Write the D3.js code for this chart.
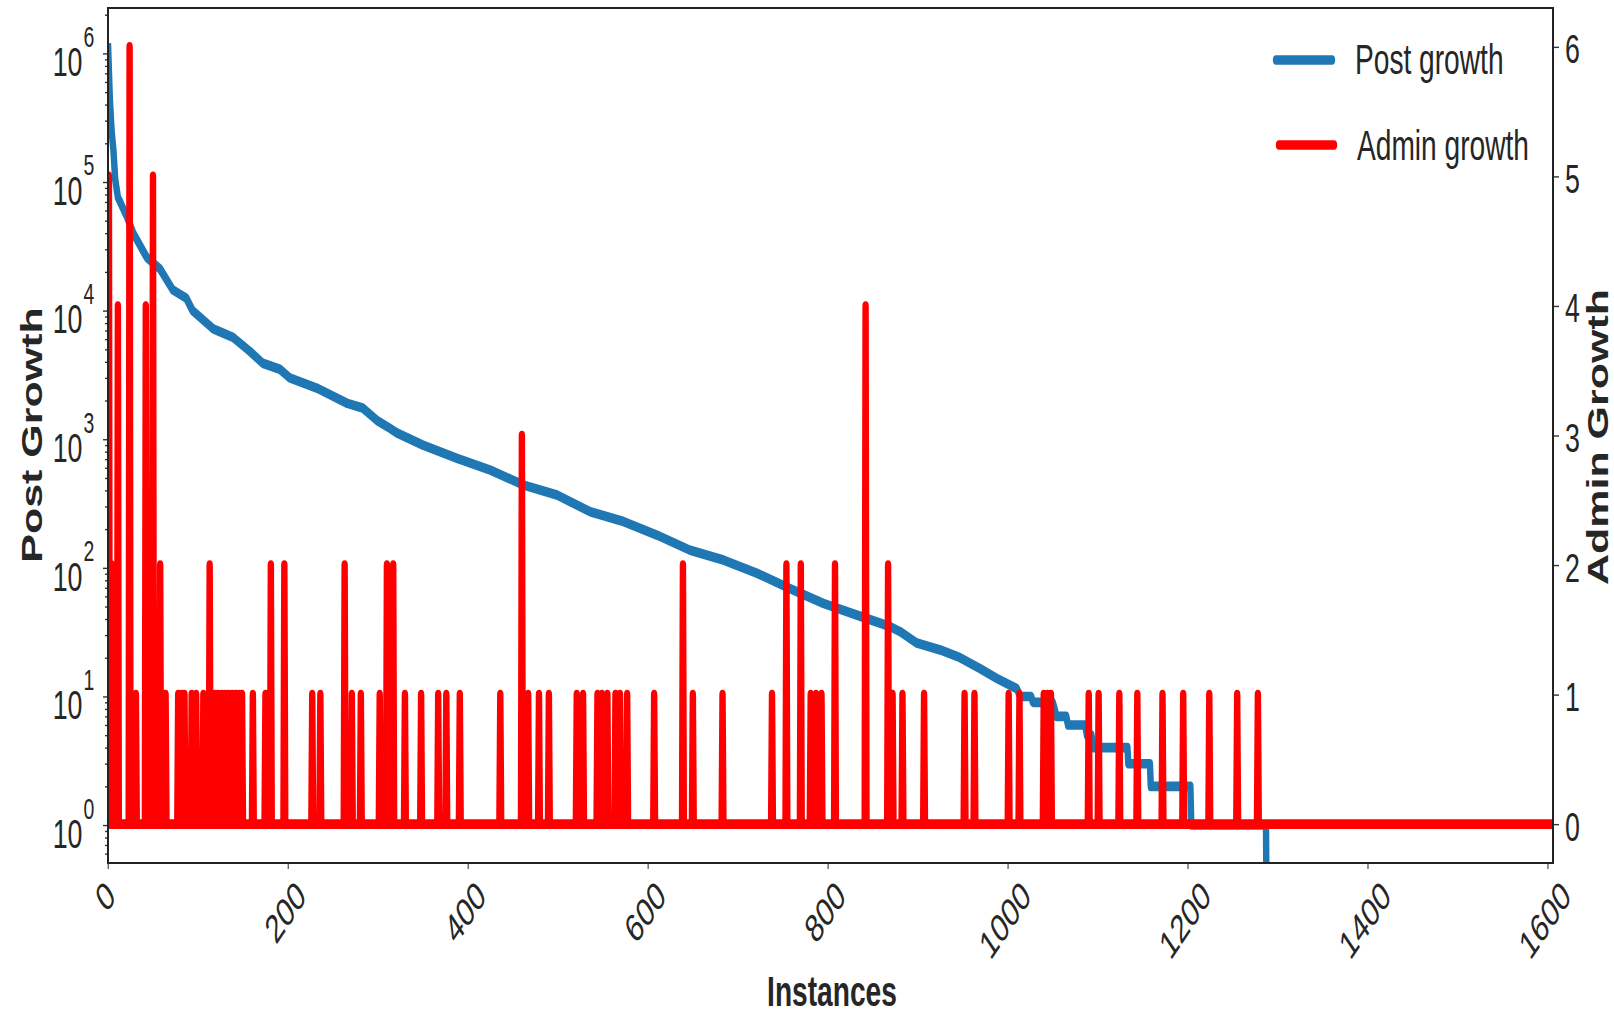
<!DOCTYPE html>
<html>
<head>
<meta charset="utf-8">
<script src="https://cdn.jsdelivr.net/npm/d3@7"></script>
<style>
  body { margin: 0; background: #fff; }
  svg text { font-family: "Liberation Sans", Arial, sans-serif; fill: #262626; }
</style>
</head>
<body>
<svg id="chart" width="1614" height="1017"></svg>
<script>
// Post growth per instance as [instance index, posts]
const postGrowth = [
  [0, 1200000], [2, 450000], [4, 250000], [6, 178000], [8, 105000], [11, 76000],
  [21, 54000], [28, 40000], [43, 26000], [58, 21000], [72, 14500], [87, 12500],
  [94, 10000], [117, 7200], [139, 6200], [158, 4800], [172, 3900], [191, 3500],
  [202, 3000], [232, 2500], [266, 1900], [283, 1750], [299, 1400], [313, 1220],
  [321, 1120], [350, 900], [388, 710], [425, 575], [462, 440], [499, 368],
  [536, 273], [573, 229], [610, 180], [647, 137], [684, 115], [721, 91],
  [758, 69], [795, 53], [832, 43], [869, 35], [880, 32], [899, 26], [925, 23],
  [947, 20], [969, 16.5], [988, 13.8], [1010, 11.5], [1014, 10], [1026, 10],
  [1028, 9], [1050, 9], [1052, 8], [1054, 7], [1065, 7], [1067, 6], [1086, 6],
  [1088, 5], [1093, 5], [1095, 4], [1133, 4], [1134, 3], [1158, 3], [1159, 2],
  [1203, 2], [1204, 1], [1287, 1], [1288, 0]
];

// Admin growth: instances where it is not zero, as [instance index, admins]
const adminSpikes = [
  [1, 5], [4, 2], [11, 4], [24, 6], [31, 1], [42, 4], [46, 1], [50, 5], [58, 2], [64, 1],
  [78, 1], [82, 1], [85, 1], [93, 1], [98, 1], [106, 1], [113, 2], [118, 1], [122, 1],
  [126, 1], [130, 1], [134, 1], [138, 1], [142, 1], [146, 1], [149, 1], [161, 1],
  [175, 1], [181, 2], [196, 2], [227, 1], [236, 1], [263, 2], [271, 1], [281, 1],
  [302, 1], [310, 2], [317, 2], [330, 1], [348, 1], [367, 1], [376, 1], [391, 1],
  [436, 1], [460, 3], [467, 1], [479, 1], [490, 1], [521, 1], [528, 1], [544, 1],
  [549, 1], [555, 1], [564, 1], [569, 1], [577, 1], [607, 1], [639, 2], [650, 1],
  [683, 1], [738, 1], [754, 2], [770, 2], [781, 1], [787, 1], [793, 1], [808, 2],
  [842, 4], [867, 2], [872, 1], [883, 1], [907, 1], [952, 1], [963, 1], [1001, 1],
  [1013, 1], [1040, 1], [1044, 1], [1048, 1], [1090, 1], [1101, 1], [1124, 1],
  [1144, 1], [1172, 1], [1195, 1], [1224, 1], [1255, 1], [1278, 1]
];
const instanceCount = 1607;

const xTicks = [0, 200, 400, 600, 800, 1000, 1200, 1400, 1600];
const postExponents = [0, 1, 2, 3, 4, 5, 6];
const adminTicks = [0, 1, 2, 3, 4, 5, 6];
const legendLabels = ["Post growth", "Admin growth"];
const seriesColors = ["#1f77b4", "#ff0000"];

// the original figure is squeezed horizontally, so everything is drawn
// in a group that is scaled on x only
const sx = 0.67;
const X = v => v / sx;
const plot = { left: 108, right: 1553, top: 8, bottom: 863 };

const svg = d3.select("#chart");
const g = svg.append("g").attr("transform", `scale(${sx},1)`);

const x = d3.scaleLinear()
  .domain([0, instanceCount - 1])
  .range([X(plot.left), X(plot.right)]);
const yPost = d3.scaleLog()
  .domain([Math.pow(10, -0.295), Math.pow(10, 6.353)])
  .range([plot.bottom, plot.top]);
const yAdmin = d3.scaleLinear()
  .domain([-0.3, 6.3])
  .range([plot.bottom, plot.top]);

g.append("clipPath").attr("id", "plotClip")
  .append("rect")
  .attr("x", X(plot.left)).attr("y", plot.top)
  .attr("width", X(plot.right) - X(plot.left))
  .attr("height", plot.bottom - plot.top);

// blue: post growth on the log axis (zero drops off the bottom)
const postLine = d3.line()
  .x(d => x(d[0]))
  .y(d => d[1] > 0 ? yPost(d[1]) : plot.bottom + 80);

g.append("path")
  .datum(postGrowth)
  .attr("clip-path", "url(#plotClip)")
  .attr("d", postLine)
  .attr("fill", "none")
  .attr("stroke", seriesColors[0])
  .attr("stroke-width", 9.6)
  .attr("stroke-linejoin", "round");

// red: admin growth on the right axis, one value per instance
const spikeMap = new Map(adminSpikes);
const adminSeries = d3.range(instanceCount).map(i => spikeMap.get(i) || 0);
const adminLine = d3.line()
  .x((d, i) => x(i))
  .y(d => yAdmin(d));

g.append("path")
  .datum(adminSeries)
  .attr("clip-path", "url(#plotClip)")
  .attr("d", adminLine)
  .attr("fill", "none")
  .attr("stroke", seriesColors[1])
  .attr("stroke-width", 9.6)
  .attr("stroke-linejoin", "round");

// left log axis, major and minor ticks
const majorVals = postExponents.map(e => Math.pow(10, e));
const minorVals = yPost.ticks().filter(v => !majorVals.some(m => Math.abs(m - v) / m < 1e-9));

const leftMajor = g.append("g")
  .attr("transform", `translate(${X(plot.left)},0)`)
  .call(d3.axisLeft(yPost).tickValues(majorVals).tickSize(5 / sx).tickFormat(""));
const leftMinor = g.append("g")
  .attr("transform", `translate(${X(plot.left)},0)`)
  .call(d3.axisLeft(yPost).tickValues(minorVals).tickSize(3 / sx).tickFormat(""));

postExponents.forEach(e => {
  let ty = yPost(Math.pow(10, e));
  g.append("text")
    .attr("x", X(82.5)).attr("y", ty + 22.7)
    .attr("text-anchor", "end")
    .attr("font-size", 40)
    .text("10");
  g.append("text")
    .attr("x", X(83.5)).attr("y", ty - 6.5)
    .attr("font-size", 29)
    .text(e);
});

// right linear axis
const rightAxis = g.append("g")
  .attr("transform", `translate(${X(plot.right)},0)`)
  .call(d3.axisRight(yAdmin).tickValues(adminTicks).tickFormat(d3.format("d"))
    .tickSize(6 / sx).tickPadding(6 / sx));
rightAxis.selectAll("text")
  .attr("font-size", 40)
  .attr("font-family", null)
  .attr("dy", "0.4em");

// bottom axis with tilted labels
const bottomAxis = g.append("g")
  .attr("transform", `translate(0,${plot.bottom})`)
  .call(d3.axisBottom(x).tickValues(xTicks).tickSize(6).tickFormat(""));

xTicks.forEach(v => {
  let t = g.append("text")
    .attr("font-size", 40)
    .attr("text-anchor", "middle")
    .attr("dy", "0.358em")
    .text(v);
  let tw = t.node().getComputedTextLength();
  let cy = 878 + (tw + 28.6) / (2 * Math.SQRT2);
  let cx = x(v) - X(3);
  t.attr("transform", `translate(${cx},${cy}) rotate(-45)`);
});

[leftMajor, leftMinor, rightAxis, bottomAxis].forEach(a => {
  a.select(".domain").remove();
  a.selectAll("line")
    .attr("vector-effect", "non-scaling-stroke")
    .attr("stroke-width", 1.4);
});
[leftMajor, leftMinor, rightAxis].forEach(a => a.selectAll("line").attr("stroke", "#333"));
bottomAxis.selectAll("line").attr("stroke", "#666");

// frame
g.append("rect")
  .attr("x", X(plot.left)).attr("y", plot.top)
  .attr("width", X(plot.right) - X(plot.left))
  .attr("height", plot.bottom - plot.top)
  .attr("fill", "none")
  .attr("stroke", "#222")
  .attr("stroke-width", 2)
  .attr("vector-effect", "non-scaling-stroke");

// axis titles
g.append("text")
  .attr("transform", `translate(${X(42)},435) rotate(-90)`)
  .attr("text-anchor", "middle")
  .attr("font-weight", "bold")
  .attr("font-size", 43)
  .text("Post Growth");

g.append("text")
  .attr("transform", `translate(${X(1608)},437) rotate(-90)`)
  .attr("text-anchor", "middle")
  .attr("font-weight", "bold")
  .attr("font-size", 43)
  .text("Admin Growth");

g.append("text")
  .attr("x", X(832)).attr("y", 1006)
  .attr("text-anchor", "middle")
  .attr("font-weight", "bold")
  .attr("font-size", 42)
  .text("Instances");

// legend
const legendRows = [
  { y: 60, ty: 74, x0: 1276, x1: 1332, tx: 1355 },
  { y: 145, ty: 160, x0: 1279, x1: 1334, tx: 1357 }
];
legendLabels.forEach((lab, i) => {
  let r = legendRows[i];
  g.append("line")
    .attr("x1", X(r.x0)).attr("x2", X(r.x1))
    .attr("y1", r.y).attr("y2", r.y)
    .attr("stroke", seriesColors[i])
    .attr("stroke-width", 9.5)
    .attr("stroke-linecap", "round");
  g.append("text")
    .attr("x", X(r.tx)).attr("y", r.ty)
    .attr("font-size", 42)
    .text(lab);
});
</script>
</body>
</html>
